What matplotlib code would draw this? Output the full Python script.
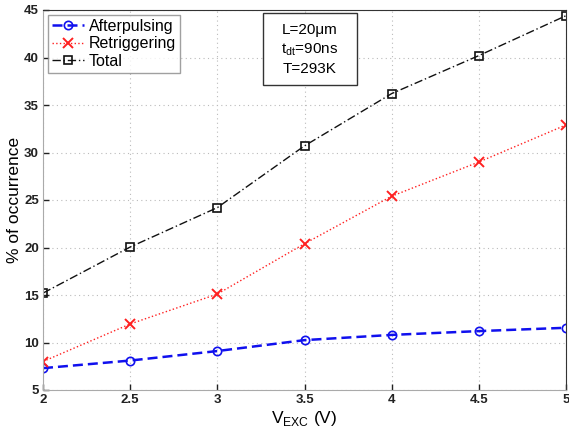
import matplotlib
matplotlib.use("Agg")
import matplotlib.pyplot as plt
from matplotlib.patches import Rectangle

plt.rcParams['font.family'] = ['Liberation Sans', 'DejaVu Sans']
plt.rcParams['mathtext.fontset'] = 'custom'
plt.rcParams['mathtext.rm'] = 'Liberation Sans'

v_exc = [2.0, 2.5, 3.0, 3.5, 4.0, 4.5, 5.0]
afterpulsing = [7.3, 8.1, 9.1, 10.25, 10.8, 11.2, 11.55]
retriggering = [8.0, 11.95, 15.1, 20.4, 25.4, 29.0, 32.9]
total = [15.2, 20.05, 24.2, 30.7, 36.2, 40.2, 44.4]

x_ticks = [2, 2.5, 3, 3.5, 4, 4.5, 5]
x_tick_labels = ['2', '2.5', '3', '3.5', '4', '4.5', '5']
y_ticks = [5, 10, 15, 20, 25, 30, 35, 40, 45]

fig = plt.figure(figsize=(5.69, 4.30), dpi=100)
ax = fig.add_axes([43 / 569, 40 / 430, 523 / 569, 380 / 430])

ax.plot(v_exc, afterpulsing, color='#1010ee', linestyle=(0, (4, 2)), linewidth=1.8,
        marker='o', markersize=6, markerfacecolor='none', markeredgewidth=1.2,
        label='Afterpulsing')
ax.plot(v_exc, retriggering, color='#ff2020', linestyle=':', linewidth=1.0,
        marker='x', markersize=7, markeredgewidth=1.4, label='Retriggering')
ax.plot(v_exc, total, color='#111111', linestyle=(0, (6, 2, 1, 2)), linewidth=1.0,
        marker='s', markersize=5.5, markerfacecolor='none', markeredgewidth=1.2,
        label='Total')

ax.set_xlim(2, 5)
ax.set_ylim(5, 45)
ax.set_xticks(x_ticks)
ax.set_xticklabels(x_tick_labels)
ax.set_yticks(y_ticks)
for lbl in ax.get_xticklabels() + ax.get_yticklabels():
    lbl.set_fontweight('bold')
    lbl.set_fontsize(9.5)
ax.tick_params(direction='in', length=4, width=1, colors='#222222', pad=3)

ax.grid(True, linestyle=(0, (1, 3)), color='#bbbbbb', linewidth=0.8)
for side in ['left', 'bottom']:
    ax.spines[side].set_color('#aaaaaa')
for side in ['top', 'right']:
    ax.spines[side].set_color('#333333')

ax.set_xlabel(r'V$_{\rm EXC}$ (V)', fontsize=12.5, labelpad=2)
ax.set_ylabel('% of occurrence', fontsize=12.5)
ax.yaxis.set_label_coords(-0.04, 0.5)

leg = ax.legend(loc='upper left', fontsize=11.5, frameon=True, fancybox=False,
                borderpad=0.25, labelspacing=0.15, handlelength=2.0,
                handletextpad=0.3, borderaxespad=0.3)
leg.get_frame().set_edgecolor('#888888')
leg.get_frame().set_linewidth(1.0)

# Parameter box with operating conditions
ax.add_patch(Rectangle((0.42, 0.803), 0.18, 0.189, transform=ax.transAxes,
                       facecolor='white', edgecolor='#333333', linewidth=1.0,
                       zorder=5))
ax.text(0.51, 0.897, 'L=20\u03bcm\n' + r't$_{\rm dt}$=90ns' + '\nT=293K',
        transform=ax.transAxes, ha='center', va='center', fontsize=11,
        linespacing=1.35, zorder=6)

fig.savefig('out.png', dpi=100)
